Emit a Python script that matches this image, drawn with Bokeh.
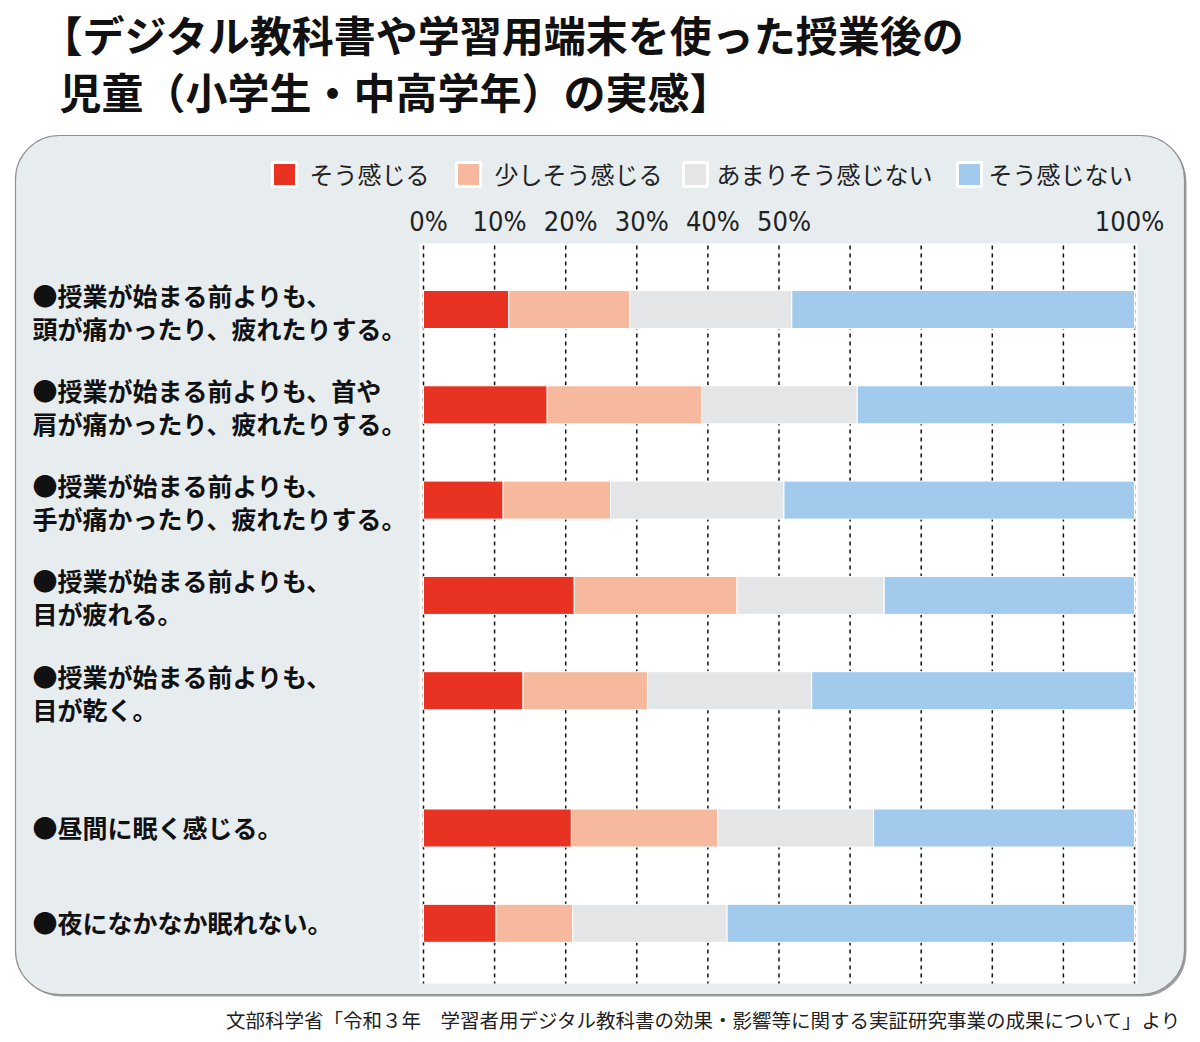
from bokeh.plotting import figure
from bokeh.models import Range1d, BoxAnnotation
from bokeh.core.properties import value
from bokeh.embed import file_html
from bokeh.resources import INLINE

# ---------------- data ----------------
title_lines = ["【デジタル教科書や学習用端末を使った授業後の", "児童（小学生・中高学年）の実感】"]
series = ["そう感じる", "少しそう感じる", "あまりそう感じない", "そう感じない"]
colors = ["#e83322", "#f6b99d", "#e4e5e7", "#a1caec"]
categories = [
    "●授業が始まる前よりも、\n頭が痛かったり、疲れたりする。",
    "●授業が始まる前よりも、首や\n肩が痛かったり、疲れたりする。",
    "●授業が始まる前よりも、\n手が痛かったり、疲れたりする。",
    "●授業が始まる前よりも、\n目が疲れる。",
    "●授業が始まる前よりも、\n目が乾く。",
    "●昼間に眠く感じる。",
    "●夜になかなか眠れない。",
]
strongly = [12.0, 17.4, 11.2, 21.2, 14.0, 20.8, 10.2]
somewhat = [17.0, 21.7, 15.1, 22.9, 17.5, 20.6, 10.8]
not_much = [22.8, 21.9, 24.4, 20.7, 23.1, 21.9, 21.7]
not_at_all = [48.2, 39.0, 49.3, 35.2, 45.4, 36.7, 57.3]
tick_values = [0, 10, 20, 30, 40, 50, 100]
tick_labels = ["0%", "10%", "20%", "30%", "40%", "50%", "100%"]
grid_values = [0, 10, 20, 30, 40, 50, 60, 70, 80, 90, 100]
source_note = "文部科学省「令和３年　学習者用デジタル教科書の効果・影響等に関する実証研究事業の成果について」より"

# ---------------- layout ----------------
W, H = 1200, 1042
X0_PX, X100_PX = 423, 1134
ppu = (X100_PX - X0_PX) / 100.0
JP = "Noto Sans CJK JP"
TICK_FONT = "'Liberation Sans Narrow', 'DejaVu Sans Condensed', 'Liberation Sans', sans-serif"

p = figure(width=W, height=H, output_backend="svg", toolbar_location=None,
           x_range=Range1d(0, W), y_range=Range1d(H, 0),
           x_axis_type=None, y_axis_type=None, min_border=0)
p.extra_x_ranges = {"pct": Range1d(-X0_PX / ppu, (W - X0_PX) / ppu)}
p.grid.visible = False
p.outline_line_color = None
p.background_fill_color = "white"
p.border_fill_color = "white"

# panel (with a soft shadow)
p.add_layout(BoxAnnotation(left=17, right=1186, top=137, bottom=996, border_radius=44,
                           fill_color="#a0a0a0", fill_alpha=1.0, line_color=None,
                           level="underlay"))
p.add_layout(BoxAnnotation(left=15, right=1184, top=135, bottom=994, border_radius=44,
                           fill_color="#e7ecef", fill_alpha=1.0,
                           line_color="#8f8f8f", line_alpha=1.0, line_width=1.2,
                           level="underlay"))

# title
title_x = [40, 59]
for i, t in enumerate(title_lines):
    p.text(x=[title_x[i]], y=[33 + i * 57], text=[t], text_font=value(JP), text_font_style="bold",
           text_font_size="42px", text_color="#111111", text_baseline="middle", text_align="left")

# legend
leg_sq_x = [284, 468, 695, 969]
leg_tx_x = [309, 494, 716, 988]
p.rect(x=leg_sq_x, y=[174] * 4, width=24, height=24, fill_color=colors,
       line_color="white", line_width=3)
p.text(x=leg_tx_x, y=[173] * 4, text=series, text_font=value(JP), text_font_size="24px",
       text_color="#222222", text_baseline="middle", text_align="left")

# plot area
plot_top, plot_bottom = 243, 983
p.quad(left=[419], right=[1137], top=[plot_top], bottom=[plot_bottom],
       fill_color="white", line_color=None)

# gridlines
p.segment(x0=grid_values, x1=grid_values, y0=[plot_top + 2] * len(grid_values),
          y1=[plot_bottom] * len(grid_values), x_range_name="pct",
          line_color="#111111", line_width=1.5, line_dash="4 4")

# tick labels
p.text(x=tick_values[:-1], y=[221] * (len(tick_values) - 1), text=tick_labels[:-1],
       x_range_name="pct", text_font=value(TICK_FONT), text_font_size="27px",
       text_color="#222222", text_baseline="middle", text_align="center", x_offset=5)
p.text(x=tick_values[-1:], y=[221], text=tick_labels[-1:],
       x_range_name="pct", text_font=value(TICK_FONT), text_font_size="27px",
       text_color="#222222", text_baseline="middle", text_align="center", x_offset=-5)

# rows
row_y = []
for i in range(len(categories)):
    row_y.append(309 + i * 95.3 + (42 if i >= 5 else 0))

lefts = [0.0] * len(categories)
for vals, col in zip([strongly, somewhat, not_much, not_at_all], colors):
    rights = [l + v for l, v in zip(lefts, vals)]
    p.hbar(y=row_y, left=lefts, right=rights, height=38, x_range_name="pct",
           fill_color=col, line_color="white", line_width=1)
    lefts = rights

# category labels
for yc, cat in zip(row_y, categories):
    lines = cat.split("\n")
    if len(lines) == 1:
        ys = [yc - 1]
    else:
        ys = [yc - 15, yc + 18]
    p.text(x=[32] * len(lines), y=ys, text=lines, text_font=value(JP),
           text_font_style="bold", text_font_size="25px", text_color="#111111",
           text_baseline="middle", text_align="left")

# source
p.text(x=[1181], y=[1019], text=[source_note], text_font=value(JP), text_font_size="19.5px",
       text_color="#222222", text_baseline="middle", text_align="right")

open("out.html", "w").write(file_html(p, INLINE))
